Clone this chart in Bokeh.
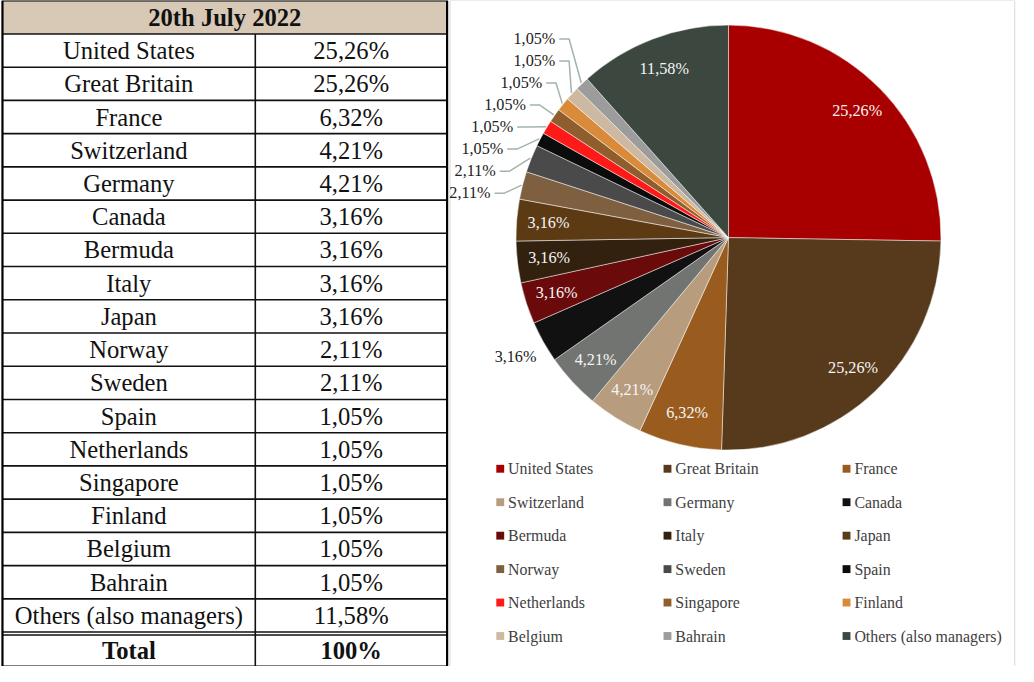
import numpy as np
from bokeh.plotting import figure
from bokeh.models import Range1d, ColumnDataSource
from bokeh.core.properties import value
from bokeh.embed import file_html
from bokeh.resources import INLINE

# ---------------- data ----------------
table_title = "20th July 2022"
countries = ["United States", "Great Britain", "France", "Switzerland", "Germany",
             "Canada", "Bermuda", "Italy", "Japan", "Norway", "Sweden", "Spain",
             "Netherlands", "Singapore", "Finland", "Belgium", "Bahrain",
             "Others (also managers)"]
shares = [25.26, 25.26, 6.32, 4.21, 4.21, 3.16, 3.16, 3.16, 3.16, 2.11, 2.11,
          1.05, 1.05, 1.05, 1.05, 1.05, 1.05, 11.58]
total_label = "Total"
total_value = "100%"

# ---------------- styles ----------------
colors = ["#A80000", "#573A1C", "#9A5C1E", "#B89C7E", "#727472", "#111111",
          "#6B0A0A", "#33210F", "#5C3A14", "#7E6040", "#4A4A4A", "#0C0C0C",
          "#FF1A1A", "#8F5E2C", "#DA8B3A", "#CDB8A2", "#9C9C9C", "#3C473F"]
label_mode = ["in", "in", "in", "in", "in", "out", "in", "in", "in",
              "lead", "lead", "lead", "lead", "lead", "lead", "lead", "lead", "in"]

FONT = value("Liberation Serif")
W, H = 1018, 666
S = H / 677.0  # screen px per layout unit

def fmt(v):
    return f"{v:.2f}".replace(".", ",") + "%"

p = figure(width=W, height=H, output_backend="svg", toolbar_location=None,
           x_range=Range1d(1, 1 + W / S), y_range=Range1d(-680, -3),
           min_border=0, background_fill_color="white", border_fill_color="white")
p.axis.visible = False
p.grid.visible = False
p.outline_line_color = None

def fs(px):
    return f"{px * S:.1f}px"

# ---------------- table ----------------
tx0, tx1, tx2 = 3, 260, 455
ty_top, ty_head = 3, 37
n = len(countries)
row_h = (645 - ty_head) / n
ty_last = ty_head + row_h * n  # 645
ty_tot0, ty_bot = ty_last + 3, 680

p.quad(left=[tx0], right=[tx2], top=[-ty_top], bottom=[-ty_head],
       fill_color="#D8C9B6", line_color=None)

hy = [ty_head + row_h * k for k in range(n)] + [ty_last, ty_tot0]
p.segment(x0=[tx0] * len(hy), x1=[tx2] * len(hy), y0=[-y for y in hy], y1=[-y for y in hy],
          line_color="#111111", line_width=1.6)
p.segment(x0=[tx1], x1=[tx1], y0=[-ty_head], y1=[-ty_bot], line_color="#111111", line_width=1.6)
p.quad(left=[tx0], right=[tx2], top=[-ty_top], bottom=[-ty_bot], fill_color=None,
       line_color="#000000", line_width=2.2)

p.text(x=[(tx0 + tx2) / 2], y=[-(ty_top + ty_head) / 2], text=[table_title],
       text_align="center", text_baseline="middle", text_font=FONT,
       text_font_size=fs(25), text_font_style="bold", text_color="#111111")

row_y = [-(ty_head + row_h * (i + 0.5)) for i in range(n)]
p.text(x=[(tx0 + tx1) / 2] * n, y=row_y, text=countries, text_align="center",
       text_baseline="middle", text_font=FONT, text_font_size=fs(25), text_color="#111111")
p.text(x=[(tx1 + tx2) / 2] * n, y=row_y, text=[fmt(v) for v in shares], text_align="center",
       text_baseline="middle", text_font=FONT, text_font_size=fs(25), text_color="#111111")
ty_mid = -(ty_tot0 + ty_bot) / 2
p.text(x=[(tx0 + tx1) / 2, (tx1 + tx2) / 2], y=[ty_mid, ty_mid], text=[total_label, total_value],
       text_align="center", text_baseline="middle", text_font=FONT, text_font_size=fs(25),
       text_font_style="bold", text_color="#111111")

# chart panel border
p.quad(left=[458], right=[1032], top=[-3], bottom=[-680], fill_color=None,
       line_color="#D9D9D9", line_width=1)

# ---------------- pie ----------------
cx, cy, r = 741, -244, 216
fr = np.array(shares) / np.sum(shares)
cum = np.concatenate([[0], np.cumsum(fr)])
start = np.pi / 2 - 2 * np.pi * cum[:-1]
end = np.pi / 2 - 2 * np.pi * cum[1:]
mid = (start + end) / 2

src = ColumnDataSource(dict(start=start, end=end, color=colors, name=countries))
p.wedge(x=cx, y=cy, radius=r, start_angle="start", end_angle="end", direction="clock",
        fill_color="color", line_color="white", line_alpha=0.6, line_width=0.8, source=src)

ins = [i for i, m in enumerate(label_mode) if m == "in"]
p.text(x=[cx + 0.85 * r * np.cos(mid[i]) for i in ins],
       y=[cy + 0.85 * r * np.sin(mid[i]) for i in ins],
       text=[fmt(shares[i]) for i in ins], text_align="center", text_baseline="middle",
       text_font=FONT, text_font_size=fs(16.5), text_color="#F5F5F5")

outs = [i for i, m in enumerate(label_mode) if m == "out"]
p.text(x=[cx + 1.15 * r * np.cos(mid[i]) for i in outs],
       y=[cy + 1.15 * r * np.sin(mid[i]) for i in outs],
       text=[fmt(shares[i]) for i in outs], text_align="center", text_baseline="middle",
       text_font=FONT, text_font_size=fs(16.5), text_color="#222222")

leads = [i for i, m in enumerate(label_mode) if m == "lead"]
R = r + 30
y_first = cy + r * np.sin(mid[leads[0]]) - 8
lx, ly, xs, ys = [], [], [], []
for k, i in enumerate(leads):
    y = y_first + 22.4 * k
    dy = y - cy
    xr = min(cx - np.sqrt(max(R * R - dy * dy, 0)), cx - 176)
    lx.append(xr)
    ly.append(y)
    ex = cx + (r + 1) * np.cos(mid[i])
    ey = cy + (r + 1) * np.sin(mid[i])
    xs.append([xr + 4, xr + 14, ex])
    ys.append([y, y, ey])
p.multi_line(xs=xs, ys=ys, line_color="#A3B4A8", line_width=1.5)
p.text(x=lx, y=ly, text=[fmt(shares[i]) for i in leads], text_align="right",
       text_baseline="middle", text_font=FONT, text_font_size=fs(16.5), text_color="#222222")

# ---------------- legend ----------------
col_x = [505, 675, 857]
row0, row_step = 479, 34
lg_x = [col_x[i % 3] for i in range(n)]
lg_y = [-(row0 + row_step * (i // 3)) for i in range(n)]
p.rect(x=[x + 4 for x in lg_x], y=lg_y, width=8, height=8, fill_color=colors, line_color=None)
p.text(x=[x + 12 for x in lg_x], y=lg_y, text=countries, text_align="left",
       text_baseline="middle", text_font=FONT, text_font_size=fs(16.2), text_color="#404040")

open("out.html", "w").write(file_html(p, INLINE))
